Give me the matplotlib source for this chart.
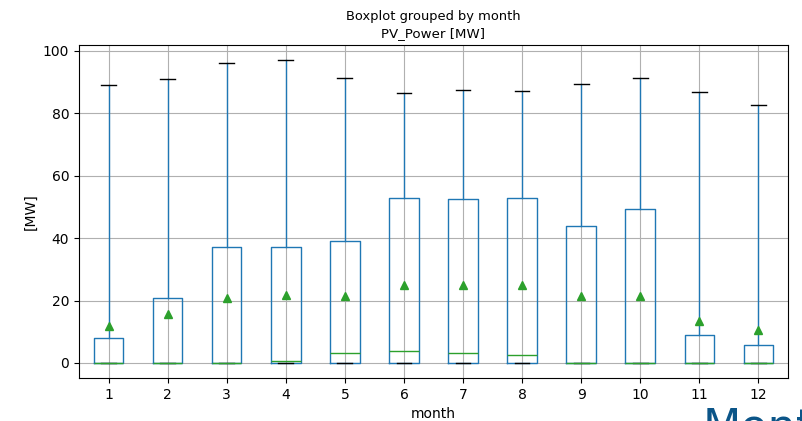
import matplotlib
matplotlib.use("Agg")
import matplotlib.pyplot as plt

months = [1, 2, 3, 4, 5, 6, 7, 8, 9, 10, 11, 12]
q1 = [0, 0, 0, 0, 0, 0, 0, 0, 0, 0, 0, 0]
medians = [0, 0, 0, 0.5, 3.3, 3.8, 3.3, 2.6, 0, 0, 0, 0]
q3 = [8.0, 20.8, 37.2, 37.0, 39.0, 53.0, 52.5, 52.7, 44.0, 49.3, 8.8, 5.8]
whis_lo = [0, 0, 0, 0, 0, 0, 0, 0, 0, 0, 0, 0]
whis_hi = [89.0, 91.0, 96.2, 97.0, 91.2, 86.5, 87.5, 87.2, 89.5, 91.2, 86.7, 82.5]
means = [11.8, 15.7, 20.7, 21.8, 21.6, 25.0, 25.0, 25.0, 21.3, 21.5, 13.5, 10.5]

stats = []
for i, m in enumerate(months):
    stats.append(dict(label=str(m), q1=q1[i], med=medians[i], q3=q3[i],
                      whislo=whis_lo[i], whishi=whis_hi[i], mean=means[i], fliers=[]))

fig = plt.figure(figsize=(8.02, 4.21), dpi=100)
ax = fig.add_axes([0.0985, 0.102, 0.884, 0.791])
ax.bxp(stats, positions=range(1, 13), widths=0.5, showmeans=True,
       boxprops=dict(color="C0"), whiskerprops=dict(color="C0"),
       medianprops=dict(color="C2"), capprops=dict(color="k"),
       meanprops=dict(marker="^", markerfacecolor="C2", markeredgecolor="C2"))
ax.grid(True, color="#b0b0b0", linewidth=0.8)
ax.set_axisbelow(True)
ax.set_title("PV_Power [MW]", fontsize=9.6)
fig.suptitle("Boxplot grouped by month", fontsize=9.4, x=0.54, y=0.976)
ax.set_xlabel("month")
ax.set_ylabel("[MW]")
fig.text(0.876, 0.035, "Mont", fontsize=32, color="#0b5588", va="top", ha="left")
fig.savefig("out.png", dpi=100)
